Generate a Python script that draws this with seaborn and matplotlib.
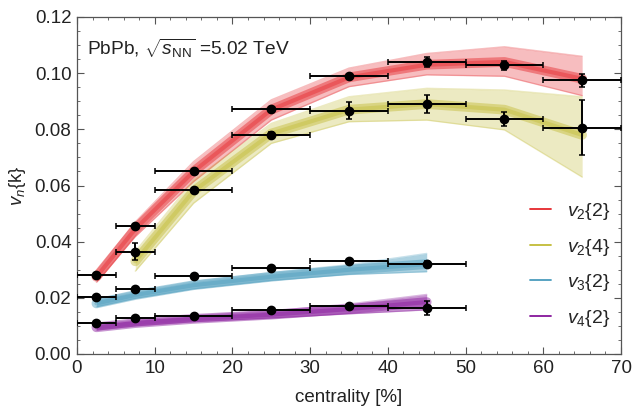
import numpy as np
import pandas as pd
import matplotlib
matplotlib.use("Agg")
import matplotlib.pyplot as plt
from matplotlib.lines import Line2D
from matplotlib.ticker import MultipleLocator
import seaborn as sns

# ---------------- data ----------------
# experimental points (centrality bin centres, half widths, values, errors)
cent_v2 = [2.5, 7.5, 15, 25, 35, 45, 55, 65]
xerr_v2 = [2.5, 2.5, 5, 5, 5, 5, 5, 5]
v22_val = [0.0281, 0.0456, 0.0653, 0.0871, 0.0990, 0.1041, 0.1028, 0.0975]
v22_err = [0.0004, 0.0005, 0.0006, 0.0008, 0.0007, 0.0018, 0.0015, 0.0023]

cent_v24 = [7.5, 15, 25, 35, 45, 55, 65]
xerr_v24 = [2.5, 5, 5, 5, 5, 5, 5]
v24_val = [0.0364, 0.0584, 0.0780, 0.0867, 0.0889, 0.0836, 0.0805]
v24_err = [0.0030, 0.0006, 0.0010, 0.0030, 0.0032, 0.0025, 0.0098]

cent_v3 = [2.5, 7.5, 15, 25, 35, 45]
xerr_v3 = [2.5, 2.5, 5, 5, 5, 5]
v32_val = [0.0204, 0.0230, 0.0278, 0.0307, 0.0331, 0.0320]
v32_err = [0.0004, 0.0006, 0.0007, 0.0008, 0.0008, 0.0010]
v42_val = [0.0112, 0.0128, 0.0136, 0.0155, 0.0171, 0.0163]
v42_err = [0.0005, 0.0005, 0.0005, 0.0006, 0.0008, 0.0025]

# model bands (lower, centre, upper) at the model centrality nodes
model_x_v22 = [2.5, 7.5, 15, 25, 35, 45, 55, 65]
v22_lo = [0.0255, 0.0418, 0.0614, 0.0833, 0.0952, 0.0994, 0.0989, 0.0920]
v22_mid = [0.0275, 0.0445, 0.0650, 0.0870, 0.0985, 0.1030, 0.1040, 0.0980]
v22_hi = [0.0295, 0.0470, 0.0685, 0.0905, 0.1018, 0.1070, 0.1094, 0.1060]

model_x_v24 = [7.5, 15, 25, 35, 45, 55, 65]
v24_lo = [0.0295, 0.0537, 0.0750, 0.0827, 0.0833, 0.0798, 0.0630]
v24_mid = [0.0330, 0.0580, 0.0785, 0.0870, 0.0890, 0.0870, 0.0780]
v24_hi = [0.0365, 0.0620, 0.0821, 0.0916, 0.0946, 0.0940, 0.0916]

model_x_v3 = [2.5, 7.5, 15, 25, 35, 45]
v32_lo = [0.0168, 0.0198, 0.0232, 0.0262, 0.0283, 0.0293]
v32_mid = [0.0180, 0.0210, 0.0245, 0.0275, 0.0300, 0.0320]
v32_hi = [0.0195, 0.0222, 0.0258, 0.0290, 0.0318, 0.0358]
v42_lo = [0.0085, 0.0100, 0.0115, 0.0128, 0.0143, 0.0157]
v42_mid = [0.0095, 0.0110, 0.0125, 0.0140, 0.0160, 0.0185]
v42_hi = [0.0105, 0.0120, 0.0136, 0.0153, 0.0178, 0.0212]

labels = [r'$v_2\{2\}$', r'$v_2\{4\}$', r'$v_3\{2\}$', r'$v_4\{2\}$']
colors = ['#e5262b', '#c2bb35', '#4a9cbd', '#86159a']

# ---------------- style ----------------
sns.set_theme(style="ticks")
plt.rcParams['font.family'] = ['Liberation Sans', 'DejaVu Sans']
plt.rcParams['mathtext.fontset'] = 'custom'
plt.rcParams['mathtext.rm'] = 'Liberation Sans'
plt.rcParams['mathtext.it'] = 'Liberation Sans:italic'
plt.rcParams['mathtext.bf'] = 'Liberation Sans:bold'

fig = plt.figure(figsize=(6.34, 4.12), dpi=100)
ax = fig.add_axes([77 / 634, 1 - 354 / 412, 544 / 634, 337 / 412])

bands = [
    (model_x_v22, v22_lo, v22_mid, v22_hi, colors[0], 0.30),
    (model_x_v24, v24_lo, v24_mid, v24_hi, colors[1], 0.30),
    (model_x_v3, v32_lo, v32_mid, v32_hi, colors[2], 0.45),
    (model_x_v3, v42_lo, v42_mid, v42_hi, colors[3], 0.45),
]
for x, lo, mid, hi, c, a in bands:
    ax.fill_between(x, lo, hi, color=c, alpha=a, lw=0)
    df = pd.DataFrame({'x': x, 'lo': lo, 'mid': mid, 'hi': hi})
    sns.lineplot(data=df, x='x', y='lo', ax=ax, color=c, alpha=0.3, lw=1.0)
    sns.lineplot(data=df, x='x', y='hi', ax=ax, color=c, alpha=0.3, lw=1.0)
    sns.lineplot(data=df, x='x', y='mid', ax=ax, color=c, alpha=0.45, lw=7)
    sns.lineplot(data=df, x='x', y='mid', ax=ax, color=c, alpha=0.4, lw=3)

points = [
    (cent_v2, xerr_v2, v22_val, v22_err),
    (cent_v24, xerr_v24, v24_val, v24_err),
    (cent_v3, xerr_v3, v32_val, v32_err),
    (cent_v3, xerr_v3, v42_val, v42_err),
]
for x, xe, y, ye in points:
    ax.errorbar(x, y, xerr=xe, yerr=ye, fmt='o', color='black', ms=6,
                elinewidth=1.4, capsize=2, capthick=1.1, zorder=5)

ax.set_xlim(0, 70)
ax.set_ylim(0, 0.12)
ax.xaxis.set_major_locator(MultipleLocator(10))
ax.xaxis.set_minor_locator(MultipleLocator(2))
ax.yaxis.set_major_locator(MultipleLocator(0.02))
ax.yaxis.set_minor_locator(MultipleLocator(0.005))
ax.yaxis.set_major_formatter(matplotlib.ticker.FormatStrFormatter('%.2f'))
ax.tick_params(which='both', direction='in', top=True, right=True,
               color='#555555', labelsize=13.5, labelcolor='#222222')
ax.tick_params(which='major', length=5, width=0.8, pad=4)
ax.tick_params(which='minor', length=2.5, width=0.6)
for s in ax.spines.values():
    s.set_color('#555555')
    s.set_linewidth(0.9)

ax.set_xlabel('centrality [%]', fontsize=13.5, color='#222222', labelpad=9)
ax.set_ylabel(r'$v_n\{\mathrm{k}\}$', fontsize=13.5, color='#222222', labelpad=5)

ax.text(0.018, 0.908, r'PbPb, $\sqrt{s_{\mathrm{NN}}}$ =5.02 TeV',
        transform=ax.transAxes, fontsize=13.8, va='center', ha='left',
        color='#222222')

handles = [Line2D([0], [0], color=c, lw=1.3) for c in colors]
leg = ax.legend(handles, labels, loc='center left',
                bbox_to_anchor=((530 - 77) / 544, (354 - 265) / 337),
                frameon=False, fontsize=14, handlelength=1.1,
                handletextpad=0.8, labelspacing=0.75, borderpad=0,
                borderaxespad=0)

fig.savefig('out.png', dpi=100)
